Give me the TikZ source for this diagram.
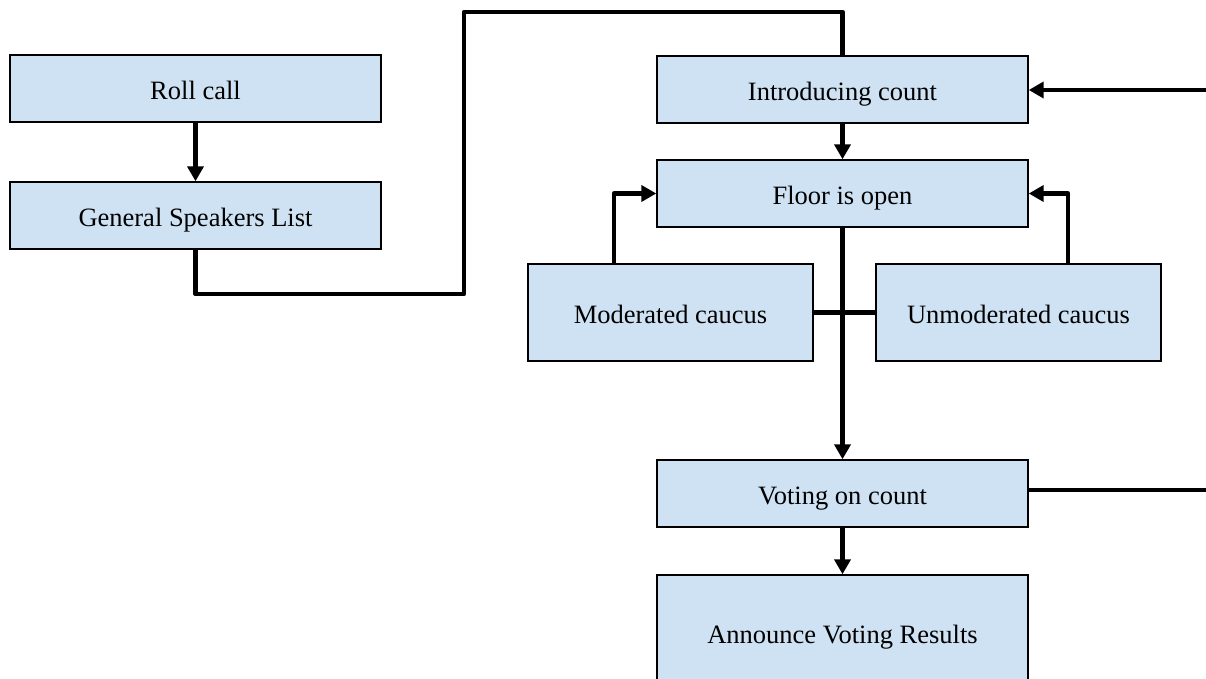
\documentclass[tikz,border=0pt]{standalone}
\usepackage{fontspec}
\setmainfont{Liberation Serif}
\usetikzlibrary{arrows.meta}
\definecolor{boxblue}{RGB}{207,226,243}
\begin{document}
\begin{tikzpicture}[x=1pt,y=-1pt,
  stepbox/.style={draw=black,line width=1.4pt,fill=boxblue,inner sep=0pt,
    minimum width=371pt,minimum height=67pt,text height=22pt,text depth=0pt,
    font=\fontsize{26.5}{30}\selectfont},
  cbox/.style={stepbox,minimum width=285pt,minimum height=97pt},
  conn/.style={line width=4.5pt,line join=round},
  arr/.style={conn,-{Triangle[width=16pt,length=15pt]}}]
\clip (0,0) rectangle (1206,679);
\useasboundingbox (0,0) rectangle (1206,679);
\node[stepbox] (roll) at (195.5,88.5) {Roll call};
\node[stepbox] (gsl) at (195.5,215.5) {General Speakers List};
\node[stepbox] (intro) at (842.5,89.5) {Introducing count};
\node[stepbox] (floor) at (842.5,193.5) {Floor is open};
\node[cbox] (mod) at (670.5,312.5) {Moderated caucus};
\node[cbox] (unmod) at (1018.5,312.5) {Unmoderated caucus};
\node[stepbox] (vote) at (842.5,493.5) {Voting on count};
\node[stepbox,minimum height=115pt] (ann) at (842.5,632.5) {Announce Voting Results};
\coordinate (rin) at (1210,90);
\coordinate (rout) at (1210,490);
\draw[arr] (roll.south) -- (gsl.north);
\draw[conn] (gsl.south) -- (195.5,294) -- (464,294) -- (464,12) -- (842.5,12) -- (intro.north);
\draw[arr] (intro.south) -- (floor.north);
\draw[arr] (rin) -- (rin -| intro.east);
\draw[arr] (614,0 |- mod.north) -- (614,193.5) -- (floor.west);
\draw[arr] (1068,0 |- unmod.north) -- (1068,193.5) -- (floor.east);
\draw[conn] (mod.east) -- (unmod.west);
\draw[arr] (floor.south) -- (vote.north);
\draw[conn] (vote.east |- rout) -- (rout);
\draw[arr] (vote.south) -- (ann.north);
\end{tikzpicture}
\end{document}
